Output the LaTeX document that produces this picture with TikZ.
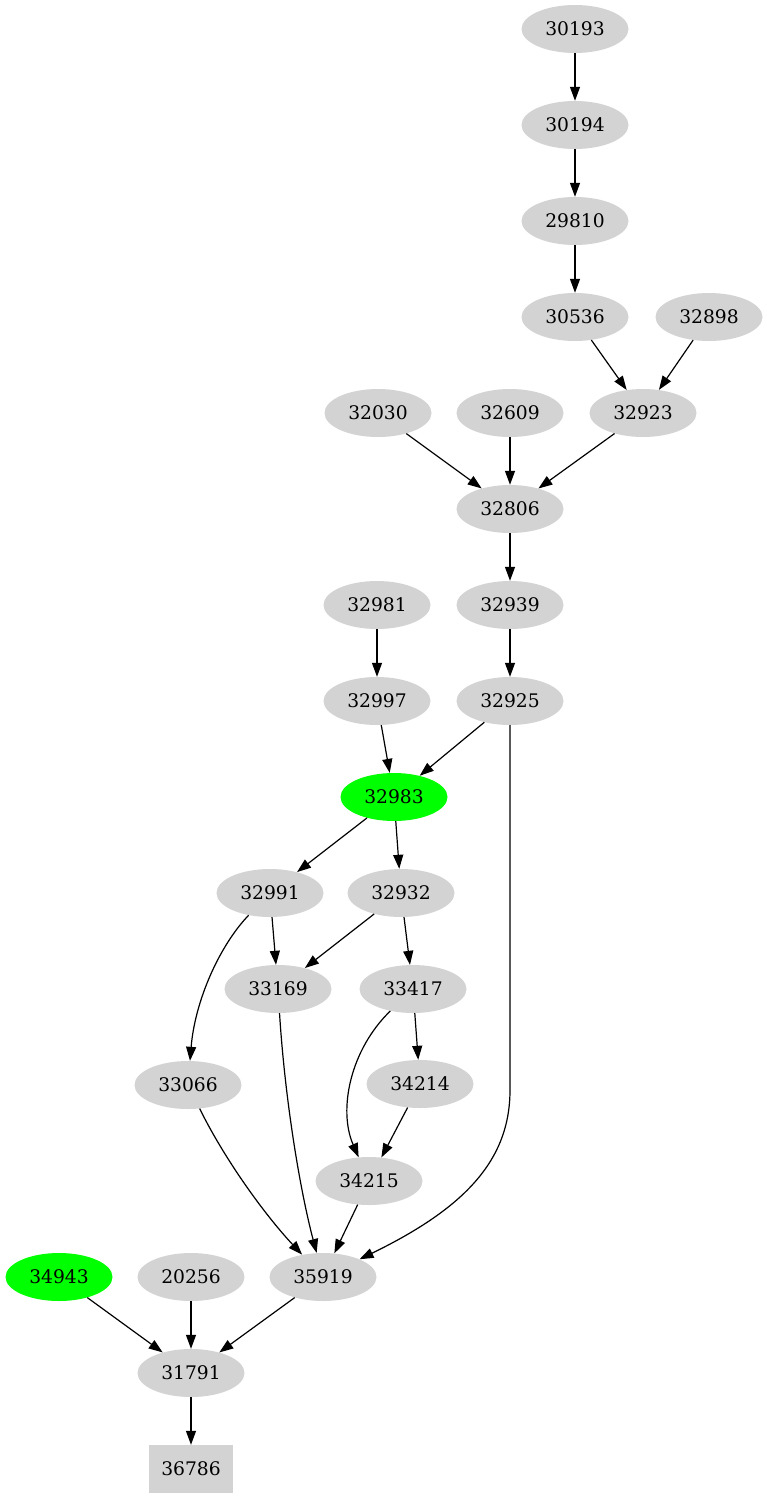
\documentclass[tikz,border=0pt]{standalone}
\usepackage{fontspec}
\setmainfont{DejaVu Serif}
\usetikzlibrary{shapes.geometric,arrows.meta}
\definecolor{nodegray}{HTML}{D3D3D3}
\definecolor{nodegreen}{HTML}{00FF00}
\tikzset{
  gnode/.style={ellipse, fill=nodegray, draw=none, minimum width=107pt, minimum height=48pt, inner sep=0pt, font=\fontsize{18.7}{20}\selectfont},
  greennode/.style={gnode, fill=nodegreen},
  boxnode/.style={rectangle, fill=nodegray, draw=none, minimum width=84pt, minimum height=48pt, inner sep=0pt, font=\fontsize{18.7}{20}\selectfont},
  edge/.style={draw=black, line width=1.2pt, -{Triangle[length=14pt,width=10pt]}}
}
\begin{document}
\begin{tikzpicture}[x=1pt,y=-1pt]
\useasboundingbox (0,0) rectangle (766,1499);
\node[gnode] (n30193) at (575,29) {30193};
\node[gnode] (n30194) at (575,125) {30194};
\node[gnode] (n29810) at (575,221) {29810};
\node[gnode] (n30536) at (575,317) {30536};
\node[gnode] (n32898) at (709,317) {32898};
\node[gnode] (n32030) at (378,413) {32030};
\node[gnode] (n32609) at (510,413) {32609};
\node[gnode] (n32923) at (643,413) {32923};
\node[gnode] (n32806) at (510,509) {32806};
\node[gnode] (n32981) at (377,605) {32981};
\node[gnode] (n32939) at (510,605) {32939};
\node[gnode] (n32997) at (377,701) {32997};
\node[gnode] (n32925) at (510,701) {32925};
\node[greennode] (n32983) at (394,797) {32983};
\node[gnode] (n32991) at (270,893) {32991};
\node[gnode] (n32932) at (401,893) {32932};
\node[gnode] (n33169) at (278,989) {33169};
\node[gnode] (n33417) at (413,989) {33417};
\node[gnode] (n33066) at (188,1085) {33066};
\node[gnode] (n34214) at (420,1084) {34214};
\node[gnode] (n34215) at (369,1181) {34215};
\node[greennode] (n34943) at (59,1277) {34943};
\node[gnode] (n20256) at (191,1277) {20256};
\node[gnode] (n35919) at (323,1277) {35919};
\node[gnode] (n31791) at (191,1373) {31791};
\node[boxnode] (n36786) at (191,1469) {36786};

\path[edge] (n30193) -- (n30194);
\path[edge] (n30194) -- (n29810);
\path[edge] (n29810) -- (n30536);
\path[edge] (n30536) -- (n32923);
\path[edge] (n32898) -- (n32923);
\path[edge] (n32030) -- (n32806);
\path[edge] (n32609) -- (n32806);
\path[edge] (n32923) -- (n32806);
\path[edge] (n32806) -- (n32939);
\path[edge] (n32939) -- (n32925);
\path[edge] (n32981) -- (n32997);
\path[edge] (n32997) -- (n32983);
\path[edge] (n32925) -- (n32983);
\path[edge] (n32983) -- (n32991);
\path[edge] (n32983) -- (n32932);
\path[edge] (n32991) -- (n33169);
\path[edge] (n32932) -- (n33169);
\path[edge] (n32932) -- (n33417);
\path[edge] (n32991) .. controls (220,945) and (195,1000) .. (n33066);
\path[edge] (n33417) -- (n34214);
\path[edge] (n33417) .. controls (350,1050) and (338,1110) .. (n34215);
\path[edge] (n34214) -- (n34215);
\path[edge] (n34215) -- (n35919);
\path[edge] (n33066) .. controls (225,1160) and (265,1215) .. (n35919);
\path[edge] (n33169) .. controls (285,1100) and (300,1190) .. (n35919);
\coordinate (bend) at (510,1090);
\path[edge] (n32925) -- (bend) .. controls (510,1160) and (465,1208) .. (n35919);
\path[edge] (n34943) -- (n31791);
\path[edge] (n20256) -- (n31791);
\path[edge] (n35919) -- (n31791);
\path[edge] (n31791) -- (n36786);
\end{tikzpicture}
\end{document}
